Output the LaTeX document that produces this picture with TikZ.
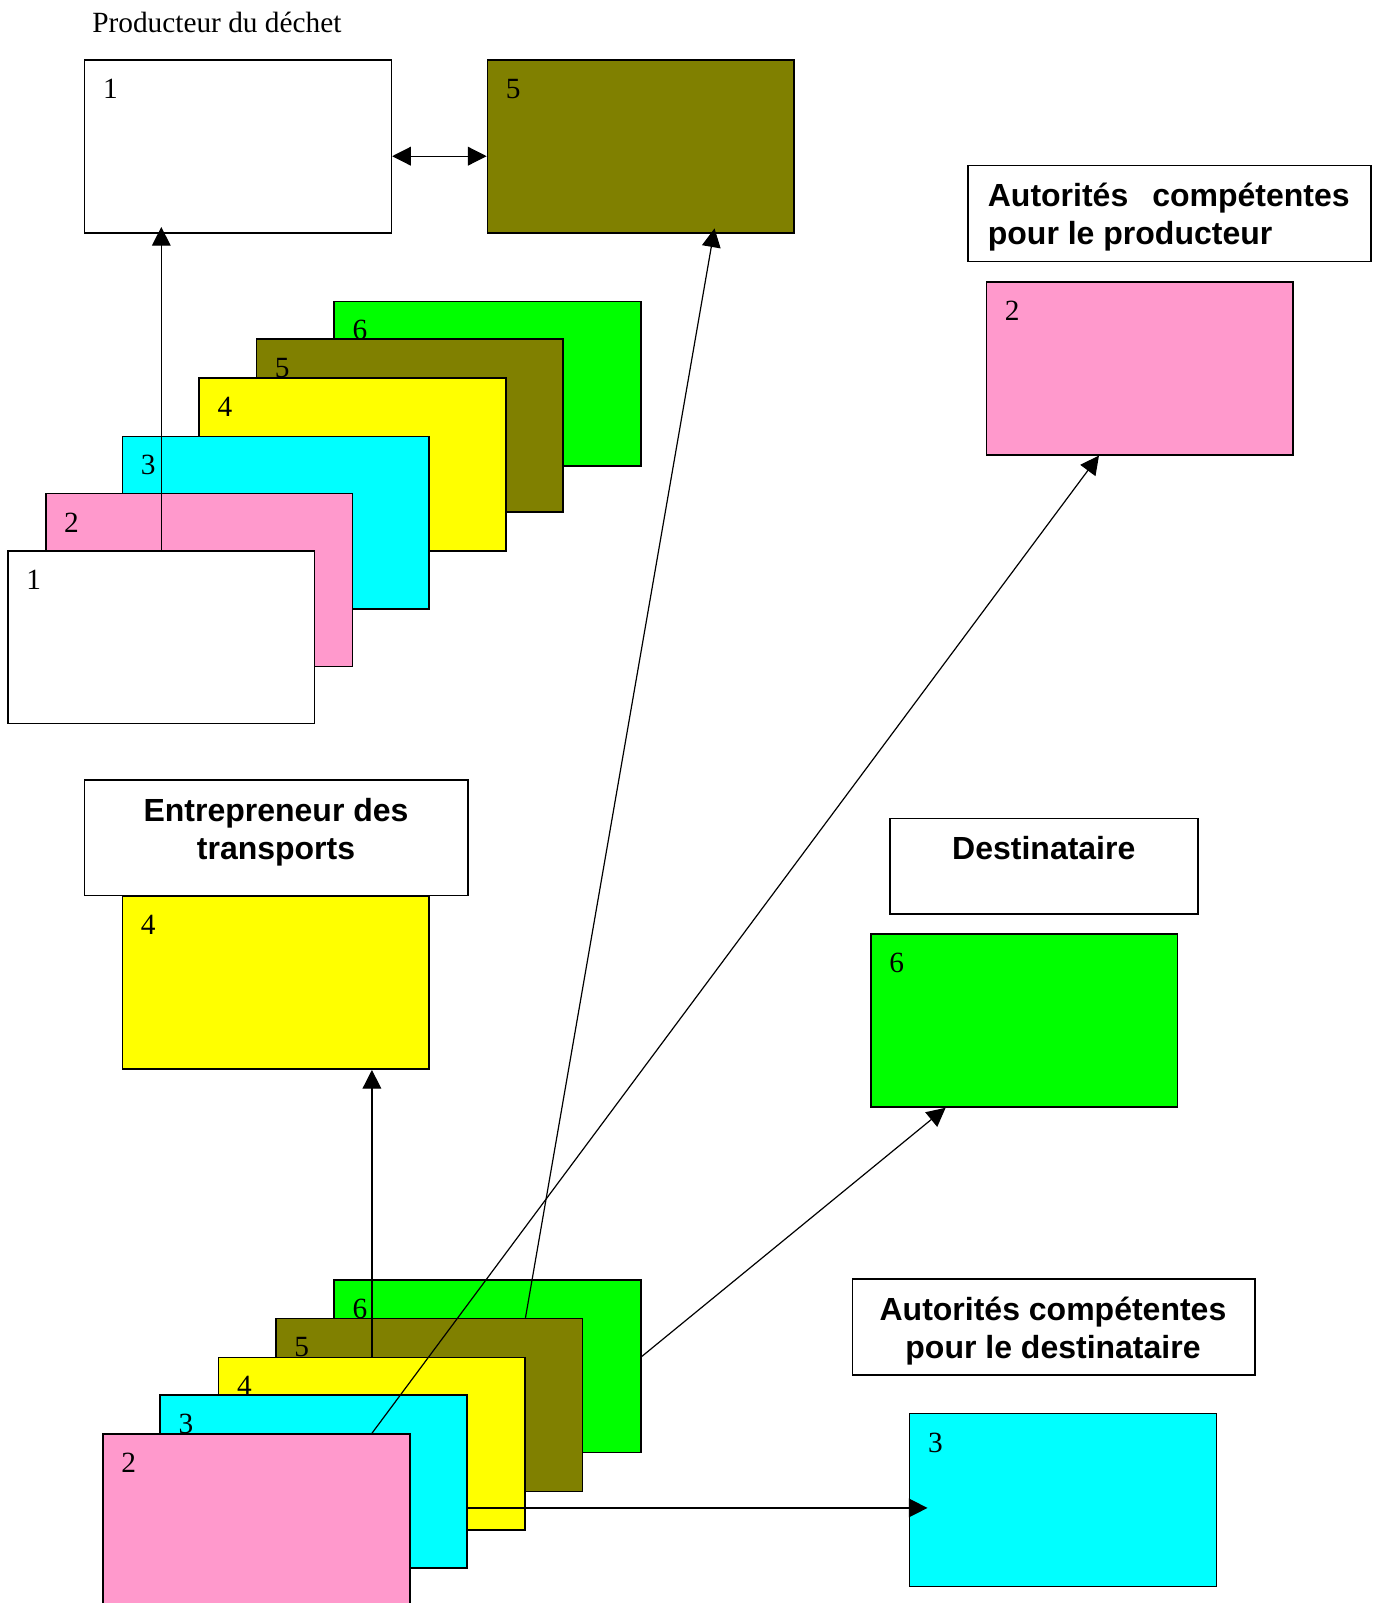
\documentclass[tikz,border=0pt]{standalone}
\usepackage{fontspec}
\setmainfont{Liberation Serif}
\setsansfont{Liberation Sans}
\usetikzlibrary{arrows.meta,calc}

\definecolor{sheetolive}{RGB}{128,128,0}
\definecolor{sheetpink}{RGB}{255,153,204}
\definecolor{sheetcyan}{RGB}{0,255,255}
\definecolor{sheetyellow}{RGB}{255,255,0}
\definecolor{sheetgreen}{RGB}{0,255,0}

\def\pxu{0.76672pt}

\begin{document}
\begin{tikzpicture}[x=\pxu, y=-\pxu,
  sheet/.style={draw=black, line width=1.2pt, anchor=north west, inner sep=0pt,
                minimum width=300*\pxu, minimum height=169*\pxu},
  numtxt/.style={font=\fontsize{22}{26}\selectfont, inner sep=0pt},
  captxt/.style={font=\sffamily\bfseries\fontsize{24}{28.4}\selectfont, inner sep=0pt},
  titlebox/.style={draw=black, line width=1.2pt, anchor=north west, inner sep=0pt},
  link/.style={line width=0.9pt, -{Triangle[length=14pt,width=14pt]}},
  duallink/.style={line width=0.9pt, {Triangle[length=14pt,width=14pt]}-{Triangle[length=14pt,width=14pt]}}]

\useasboundingbox (0,0) rectangle (1348,1568);
\clip (0,0) rectangle (1348,1568);

% --- producer of the waste
\node[font=\fontsize{22}{26}\selectfont, anchor=base west, inner sep=0pt] (title) at (90,32) {Producteur du déchet};
\node[sheet, fill=white] (p1) at (82,58) {};
\node[numtxt] at ($(p1.north west)+(26,29)$) {1};
\node[sheet, fill=sheetolive] (p5) at (476,58) {};
\node[numtxt] at ($(p5.north west)+(26,29)$) {5};

% --- competent authorities of the producer
\node[titlebox, minimum width=394*\pxu, minimum height=94*\pxu] (apbox) at (946,161) {};
\node[captxt, anchor=base west] (apA) at (966,202) {\makebox[271.4pt][s]{Autorités compétentes}};
\node[captxt, anchor=base west] (apB) at (966,239) {pour le producteur};
\node[sheet, fill=sheetpink] (ap2) at (964,275) {};
\node[numtxt] at ($(ap2.north west)+(26,29)$) {2};

% --- upper stack of copies
\node[sheet, fill=sheetgreen, minimum height=161*\pxu] (s6) at (326,294) {};
\node[numtxt] at ($(s6.north west)+(26,29)$) {6};
\node[sheet, fill=sheetolive] (s5) at (250,331) {};
\node[numtxt] at ($(s5.north west)+(26,29)$) {5};
\node[sheet, fill=sheetyellow] (s4) at (194,369) {};
\node[numtxt] at ($(s4.north west)+(26,29)$) {4};
\node[sheet, fill=sheetcyan] (s3) at (119,426) {};
\node[numtxt] at ($(s3.north west)+(26,29)$) {3};
\node[sheet, fill=sheetpink] (s2) at (44,482) {};
\node[numtxt] at ($(s2.north west)+(26,29)$) {2};
\node[sheet, fill=white] (s1) at (7,538) {};
\node[numtxt] at ($(s1.north west)+(26,29)$) {1};

% --- carrier
\node[titlebox, minimum width=375*\pxu, minimum height=113*\pxu] (trbox) at (82,762) {};
\node[captxt, anchor=base] (trA) at (270,804) {Entrepreneur des};
\node[captxt, anchor=base] (trB) at (270,841) {transports};
\node[sheet, fill=sheetyellow] (t4) at (119,876) {};
\node[numtxt] at ($(t4.north west)+(26,29)$) {4};

% --- consignee
\node[titlebox, minimum width=301*\pxu, minimum height=93*\pxu] (dbox) at (870,800) {};
\node[captxt, anchor=base] (dA) at (1021,841) {Destinataire};
\node[sheet, fill=sheetgreen] (d6) at (851,913) {};
\node[numtxt] at ($(d6.north west)+(26,29)$) {6};

% --- competent authorities of the consignee
\node[titlebox, minimum width=394*\pxu, minimum height=94*\pxu] (adbox) at (833,1250) {};
\node[captxt, anchor=base] (adA) at (1030,1292) {Autorités compétentes};
\node[captxt, anchor=base] (adB) at (1030,1329) {pour le destinataire};
\node[sheet, fill=sheetcyan] (ad3) at (889,1382) {};
\node[numtxt] at ($(ad3.north west)+(26,29)$) {3};

% --- lower stack of copies
\node[sheet, fill=sheetgreen] (b6) at (326,1251) {};
\node[numtxt] at ($(b6.north west)+(26,29)$) {6};
\node[sheet, fill=sheetolive] (b5) at (269,1289) {};
\node[numtxt] at ($(b5.north west)+(26,29)$) {5};
\node[sheet, fill=sheetyellow] (b4) at (213,1327) {};
\node[numtxt] at ($(b4.north west)+(26,29)$) {4};
\node[sheet, fill=sheetcyan] (b3) at (156,1364) {};
\node[numtxt] at ($(b3.north west)+(26,29)$) {3};
\node[sheet, fill=sheetpink, minimum height=180*\pxu] (b2) at (100,1402) {};
\node[numtxt] at ($(b2.north west)+(26,29)$) {2};

% --- connector end points
\coordinate (p1in) at ($(p1.east)+(0,9.5)$);
\coordinate (p5in) at ($(p5.west)+(0,9.5)$);
\coordinate (ap2in) at ($(ap2.south west)+(111,0)$);
\coordinate (p5foot) at ($(p5.south west)+(222,0)$);
\coordinate (b5out) at ($(b5.north west)+(245,0)$);
\coordinate (b2out) at (b2.north -| b4.north);
\coordinate (b6out) at ($(b6.north east)+(0,76)$);
\coordinate (d6in) at ($(d6.south west)+(74,0)$);
\coordinate (b3out) at ($(b3.north east)+(0,111)$);

% --- connectors
\draw[duallink] (p1in) -- (p5in);
\draw[link, shorten >=-5pt] (s1.north) -- (s1.north |- p1.south);
\draw[link] (b4.north) -- (b4.north |- t4.south);
\draw[link] (b2out) -- (ap2in);
\draw[link, shorten >=-4pt] (b5out) -- (p5foot);
\draw[link] (b6out) -- (d6in);
\draw[link, shorten >=-14pt] (b3out) -- (b3out -| ad3.west);

\end{tikzpicture}
\end{document}
